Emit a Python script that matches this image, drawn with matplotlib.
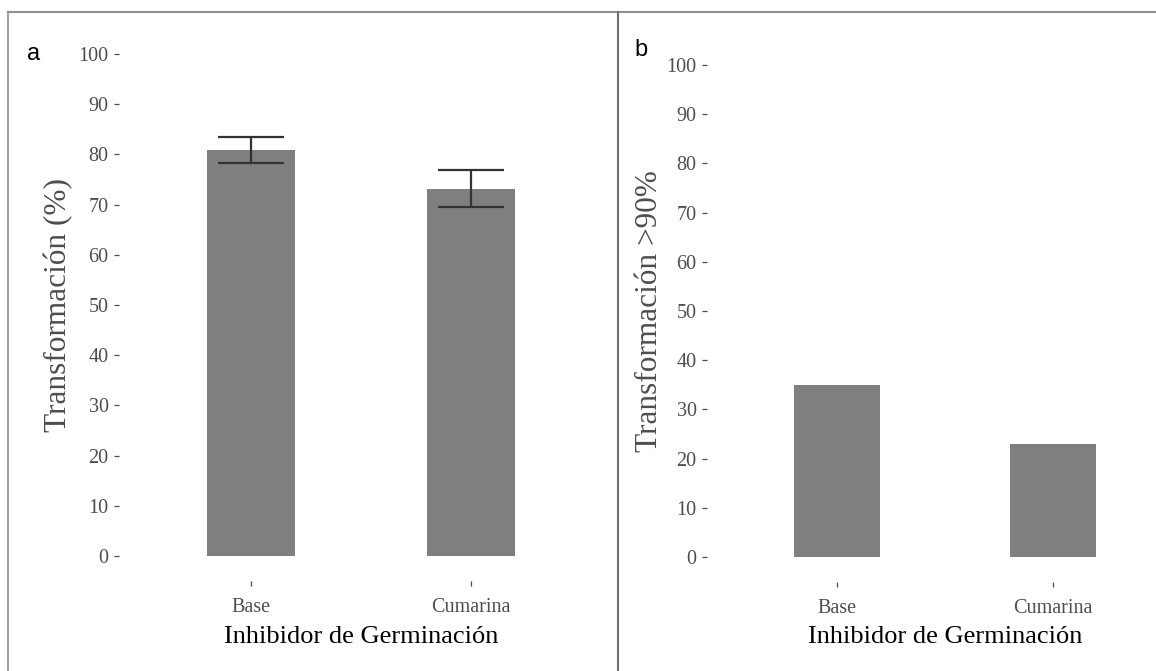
import matplotlib.pyplot as plt
from matplotlib.lines import Line2D

# datos
grupos = ['Base', 'Cumarina']
transf = [80.9, 73.2]
transf_err = [2.6, 3.7]
transf90 = [35, 23]
yticks = [0, 10, 20, 30, 40, 50, 60, 70, 80, 90, 100]

W, H = 1156, 671
fig = plt.figure(figsize=(W / 100, H / 100), dpi=100)
plt.rcParams['font.family'] = 'Liberation Serif'

gris_txt = '#4d4d4d'
barra = '#7f7f7f'


def px(l, b, r, t):
    # caja de ejes en pixeles de la imagen -> fraccion de figura
    return [l / W, (H - b) / H, (r - l) / W, (b - t) / H]


def panel(ax, vals, ylab, err=None):
    x = [1, 2]
    ax.bar(x, vals, width=0.4, color=barra, zorder=1)
    if err is not None:
        ax.errorbar(x, vals, yerr=err, fmt='none', ecolor='#333333',
                    elinewidth=1.6, capsize=24, capthick=1.6, zorder=2)
    ax.set_xlim(0.4, 2.6)
    ax.set_ylim(-5, 105)
    ax.set_xticks(x)
    ax.set_xticklabels(grupos)
    ax.set_yticks(yticks)
    for s in ax.spines.values():
        s.set_visible(False)
    ax.tick_params(axis='both', length=3.5, width=0.9, color=gris_txt,
                   labelcolor=gris_txt, labelsize=14.5, pad=4)
    ax.tick_params(axis='x', pad=9)
    ax.set_xlabel('Inhibidor de Germinación', fontsize=19, color='black',
                  labelpad=6)
    ax.set_ylabel(ylab, fontsize=22.5, color=gris_txt)


ax1 = fig.add_axes(px(119, 581, 603, 29))
panel(ax1, transf, 'Transformación (%)', transf_err)
ax1.yaxis.set_label_coords(-0.095, 0.5)

ax2 = fig.add_axes(px(707, 581.6, 1183, 40.4))
panel(ax2, transf90, 'Transformación >90%')
ax2.yaxis.set_label_coords(-0.09, 0.5)

# marco de la imagen
fig.add_artist(Line2D([8 / W, 8 / W], [0, 1 - 12 / H], transform=fig.transFigure,
                      color='#a0a0a0', lw=1.5))
fig.add_artist(Line2D([8 / W, 1], [1 - 12 / H, 1 - 12 / H], transform=fig.transFigure,
                      color='#909090', lw=1.5))
fig.add_artist(Line2D([618 / W, 618 / W], [0, 1 - 12 / H], transform=fig.transFigure,
                      color='#707070', lw=1.5))

fig.text(27 / W, 1 - 54 / H, 'a', fontsize=17, family='Liberation Sans',
         va='center', ha='left')
fig.text(634 / W, 1 - 50 / H, 'b', fontsize=17, family='Liberation Sans',
         va='center', ha='left')

fig.savefig('out.png', dpi=100)
